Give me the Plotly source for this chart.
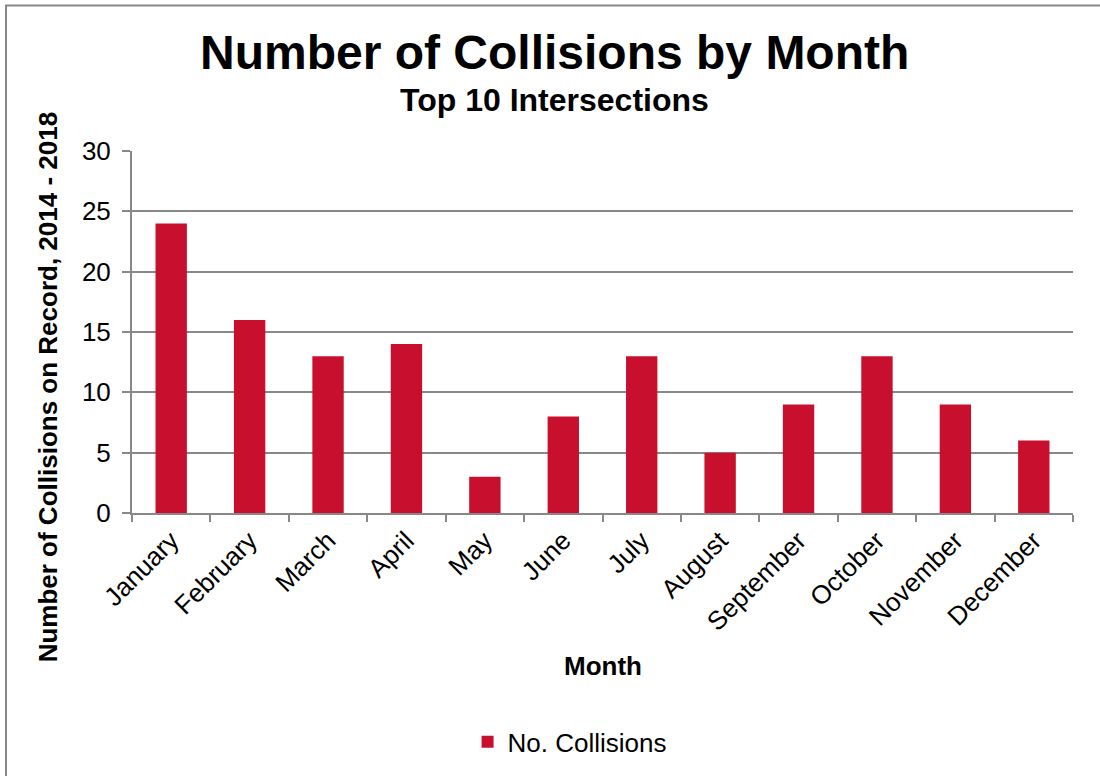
import plotly.graph_objects as go

months = ["January", "February", "March", "April", "May", "June", "July",
          "August", "September", "October", "November", "December"]
collisions = [24, 16, 13, 14, 3, 8, 13, 5, 9, 13, 9, 6]
y_ticks = [0, 5, 10, 15, 20, 25, 30]

BAR_RED = "#C8102E"
GRID = "#888888"
FONT = "Liberation Sans, Arial, sans-serif"

fig = go.Figure()
fig.add_trace(go.Bar(
    x=months, y=collisions, name="No. Collisions",
    marker=dict(color=BAR_RED, line=dict(width=0)),
))

fig.update_layout(
    width=1100, height=776,
    margin=dict(l=132, r=27, t=151, b=262),
    paper_bgcolor="white", plot_bgcolor="white",
    font=dict(family=FONT, size=26, color="black"),
    bargap=0.6,
    showlegend=True,
    legend=dict(orientation="h", x=0.465, xanchor="center", y=-0.628, yanchor="middle",
                font=dict(size=26), itemwidth=30),
    shapes=[dict(type="rect", xref="paper", yref="paper",
                 x0=-0.1339, x1=1.1, y0=-1.0, y1=1.402,
                 line=dict(color="#888888", width=2), layer="below")],
    annotations=[
        dict(text="<b>Number of Collisions by Month</b>", xref="paper", yref="paper",
             x=0.4495, y=1.273, xanchor="center", yanchor="middle", showarrow=False,
             font=dict(size=48)),
        dict(text="<b>Top 10 Intersections</b>", xref="paper", yref="paper",
             x=0.4495, y=1.140, xanchor="center", yanchor="middle", showarrow=False,
             font=dict(size=32)),
        dict(text="<b>Month</b>", xref="paper", yref="paper",
             x=0.5, y=-0.424, xanchor="center", yanchor="middle", showarrow=False,
             font=dict(size=26)),
        dict(text="<b>Number of Collisions on Record, 2014 - 2018</b>", xref="paper",
             yref="paper", x=-0.0893, y=0.347, xanchor="center", yanchor="middle",
             textangle=-90, showarrow=False, font=dict(size=26)),
    ],
)

fig.update_xaxes(
    automargin=False,
    tickangle=-45, showgrid=False, showline=True, linecolor=GRID, linewidth=2,
    ticks="outside", ticklen=7, tickcolor=GRID, tickwidth=2,
    tickson="boundaries", tickfont=dict(size=26),
)
fig.update_yaxes(
    automargin=False,
    range=[0, 30], tickvals=y_ticks, showgrid=True, gridcolor=GRID, gridwidth=2,
    showline=True, linecolor=GRID, linewidth=2, zeroline=False,
    ticks="outside", ticklen=8, tickcolor=GRID, tickwidth=2,
    tickfont=dict(size=26), ticklabelstandoff=6,
)

fig.write_html("out.html")
